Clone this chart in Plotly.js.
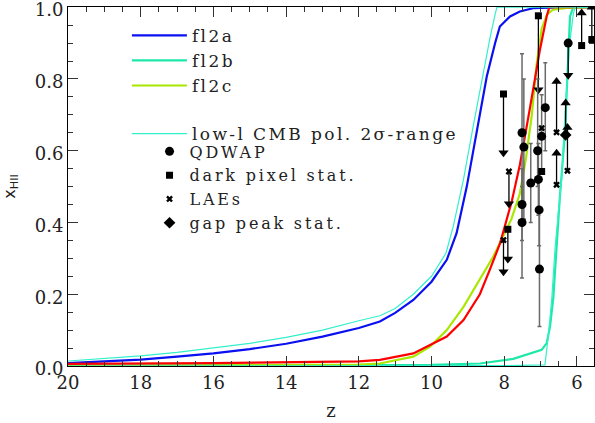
<!DOCTYPE html>
<html><head><meta charset="utf-8">
<script src="https://cdn.plot.ly/plotly-3.0.1.min.js"></script>
<style>
html,body{margin:0;padding:0;background:#fff;}
text.legendtext{letter-spacing:2.4px !important;}
text.legend2text{letter-spacing:2.8px !important;}
</style>
</head><body><div id="chart" style="width:595px;height:423px;"></div>
<script>
// ---- model curves (redshift z, ionized fraction x_HII) ----
const fl2aZ = [20,19,18,17,16,15,14,13,12,11.42,11,10.5,10,9.58,9.31,9.03,8.76,8.48,8.25,8.12,7.84,7.57,7.21,6.8,6.27,5.5];
const fl2aY = [0.008,0.012,0.018,0.026,0.035,0.047,0.062,0.082,0.106,0.124,0.148,0.184,0.235,0.296,0.37,0.50,0.65,0.807,0.90,0.946,0.974,0.988,0.997,0.999,1.0,1.0];

const fl2bZ = [20,16,12,10,8.67,7.75,6.97,6.83,6.74,6.65,6.56,6.47,6.33,6.26,6.21,6.19,6.1,5.5];
const fl2bY = [0.001,0.001,0.002,0.003,0.007,0.02,0.045,0.064,0.11,0.19,0.33,0.47,0.65,0.835,0.93,0.974,1.0,1.0];

const fl2cZ = [20,16,12,11.42,10.5,10.04,9.58,9.12,8.67,8.30,8.12,7.8,7.57,7.40,7.24,7.11,6.97,6.82,6.66,6.28,5.5];
const fl2cY = [0.0,0.001,0.004,0.007,0.026,0.054,0.10,0.165,0.24,0.305,0.343,0.41,0.48,0.58,0.70,0.84,0.94,0.98,0.993,0.998,1.0];

const redZ = [20,16,12,11.42,10.5,10.13,9.58,9.12,8.67,8.39,8.12,7.79,7.57,7.29,7.02,6.83,6.76,5.5];
const redY = [0.006,0.008,0.013,0.017,0.035,0.054,0.082,0.128,0.20,0.27,0.34,0.46,0.56,0.72,0.88,0.975,1.0,1.0];

const cmbHiZ = [20,19,18,17,16,15,14,13,12,11.42,11,10.5,10,9.6,9.4,9.12,8.85,8.57,8.38,8.25,8.2,5.5];
const cmbHiY = [0.014,0.02,0.028,0.038,0.05,0.063,0.08,0.1,0.126,0.14,0.16,0.2,0.25,0.315,0.39,0.52,0.67,0.82,0.92,0.98,1.0,1.0];

const cmbLoZ = [20,12,8,6.88,6.79,6.69,6.60,6.51,6.42,6.33,6.2,6.1,6.05,5.5];
const cmbLoY = [0.0,0.0,0.001,0.003,0.08,0.19,0.33,0.43,0.52,0.70,0.90,0.98,1.0,1.0];

// ---- observational constraints ----
const qdwapZ  = [7.51,7.46,7.51,7.51,6.87,6.97,7.08,7.27,7.06,7.04,7.03];
const qdwapY  = [0.65,0.61,0.45,0.40,0.72,0.64,0.60,0.51,0.52,0.435,0.27];
const qdwapUp = [0.22,0.19,0.10,0.10,0.125,0.116,0.20,0.11,0.10,0.10,0.17];
const qdwapDn = [0.20,0.20,0.10,0.155,0.12,0.10,0.10,0.11,0.10,0.10,0.16];
const qdwapLimZ = [6.24];
const qdwapLimY = [0.90];
const qdwapLimEnd = [0.81];

const darkZ = [6.97];
const darkY = [0.542];
const darkLimZ = [7.06,8.02,5.87,5.59,7.90];
const darkLimY = [0.976,0.758,0.893,0.91,0.381];
const darkLimEnd = [0.77,0.594,0.984,1.0,0.298];

const laeZ = [6.97];
const laeY = [0.663];
const laeLimZ = [7.87,6.56,6.56,6.26,8.02];
const laeLimY = [0.542,0.651,0.505,0.544,0.351];
const laeLimEnd = [0.452,0.793,0.593,0.665,0.263];

const gapLimZ = [6.31];
const gapLimY = [0.644];
const gapLimEnd = [0.733];

// ---- build traces ----
const traces = [];
function curve(x, y, color, width, name, show, group) {
  traces.push({x:x, y:y, type:'scatter', mode:'lines', name:name, showlegend:show,
    legend:'legend', legendgroup:group, line:{color:color, width:width, shape:'linear'}, hoverinfo:'skip'});
}
curve(fl2aZ, fl2aY, '#0a10f0', 2.2, 'fl2a', true, 'models');
curve(fl2bZ, fl2bY, '#1ee8a8', 2.2, 'fl2b', true, 'models');
curve(fl2cZ, fl2cY, '#a8e800', 2.2, 'fl2c', true, 'models');
curve(redZ, redY, '#ff0000', 2.2, 'red', false, 'models');
curve(cmbHiZ, cmbHiY, '#33f0cc', 1.2, 'low-l CMB pol. 2σ-range', true, 'cmb');
curve(cmbLoZ, cmbLoY, '#33f0cc', 1.2, 'low-l CMB pol. 2σ-range', false, 'cmb');

function limits(zs, ys, ends) {
  const lx = [], ly = [], ax = [], ay = [], sym = [];
  for (let i = 0; i < zs.length; i++) {
    lx.push(zs[i], zs[i], null); ly.push(ys[i], ends[i], null);
    ax.push(zs[i]); ay.push(ends[i]);
    sym.push(ends[i] < ys[i] ? 'triangle-down' : 'triangle-up');
  }
  traces.push({x:lx, y:ly, type:'scatter', mode:'lines', showlegend:false,
    line:{color:'#000', width:1.3}, hoverinfo:'skip'});
  traces.push({x:ax, y:ay, type:'scatter', mode:'markers', showlegend:false,
    marker:{symbol:sym, size:9, color:'#000'}, hoverinfo:'skip'});
}
limits(qdwapLimZ, qdwapLimY, qdwapLimEnd);
limits(darkLimZ, darkLimY, darkLimEnd);
limits(laeLimZ, laeLimY, laeLimEnd);
limits(gapLimZ, gapLimY, gapLimEnd);

traces.push({x:qdwapZ, y:qdwapY, type:'scatter', mode:'markers', name:'QDWAP', legend:'legend2',
  marker:{symbol:'circle', size:9, color:'#000'},
  error_y:{type:'data', array:qdwapUp, arrayminus:qdwapDn, color:'#6a6a6a', thickness:1.5, width:2}});
traces.push({x:qdwapLimZ, y:qdwapLimY, type:'scatter', mode:'markers', showlegend:false,
  marker:{symbol:'circle', size:9, color:'#000'}});
traces.push({x:darkZ.concat(darkLimZ), y:darkY.concat(darkLimY), type:'scatter', mode:'markers',
  name:'dark pixel stat.', legend:'legend2', marker:{symbol:'square', size:7, color:'#000'}});
traces.push({x:laeZ.concat(laeLimZ), y:laeY.concat(laeLimY), type:'scatter', mode:'markers',
  name:'LAEs', legend:'legend2', marker:{symbol:'x', size:6, color:'#000'}});
traces.push({x:gapLimZ, y:gapLimY, type:'scatter', mode:'markers',
  name:'gap peak stat.', legend:'legend2', marker:{symbol:'diamond', size:9, color:'#000'}});

const serif = 'DejaVu Serif, serif';
const axisCommon = {
  showline:true, mirror:'ticks', linecolor:'#000', linewidth:1, ticks:'inside',
  tickcolor:'#333', ticklen:10, tickwidth:1, showgrid:false, zeroline:false,
  ticklabeloverflow:'allow',
  tickfont:{family:serif, size:18, color:'#222'}
};
const layout = {
  width:595, height:423,
  margin:{l:68, r:1, t:7, b:57},
  paper_bgcolor:'#fff', plot_bgcolor:'#fff',
  showlegend:true,
  xaxis:Object.assign({}, axisCommon, {
    range:[20, 5.53], tickmode:'linear', tick0:0, dtick:2,
    minor:{tickmode:'linear', tick0:0, dtick:0.5, ticks:'inside', ticklen:5, tickcolor:'#333', showgrid:false},
    title:{text:'z', font:{family:serif, size:18, color:'#222'}, standoff:12}
  }),
  yaxis:Object.assign({}, axisCommon, {
    range:[0, 1.0005], tickmode:'linear', tick0:0, dtick:0.2, tickformat:'.1f',
    ticklabelshift:3,
    minor:{tickmode:'linear', tick0:0, dtick:0.05, ticks:'inside', ticklen:5, tickcolor:'#333', showgrid:false},
    title:{text:'x<sub>HII</sub>', font:{family:'DejaVu Sans, sans-serif', size:16, color:'#222'}, standoff:15}
  }),
  legend:{x:0.112, y:0.97, xanchor:'left', yanchor:'top', bgcolor:'rgba(0,0,0,0)',
    font:{family:serif, size:17, color:'#222'}, itemwidth:55, tracegroupgap:23,
    traceorder:'grouped', itemclick:false},
  legend2:{x:0.155, y:0.645, xanchor:'left', yanchor:'top', bgcolor:'rgba(0,0,0,0)',
    font:{family:serif, size:16, color:'#222'}, itemwidth:30, tracegroupgap:0, itemclick:false}
};
Plotly.newPlot('chart', traces, layout, {displayModeBar:false, staticPlot:true});
</script>
</body></html>
